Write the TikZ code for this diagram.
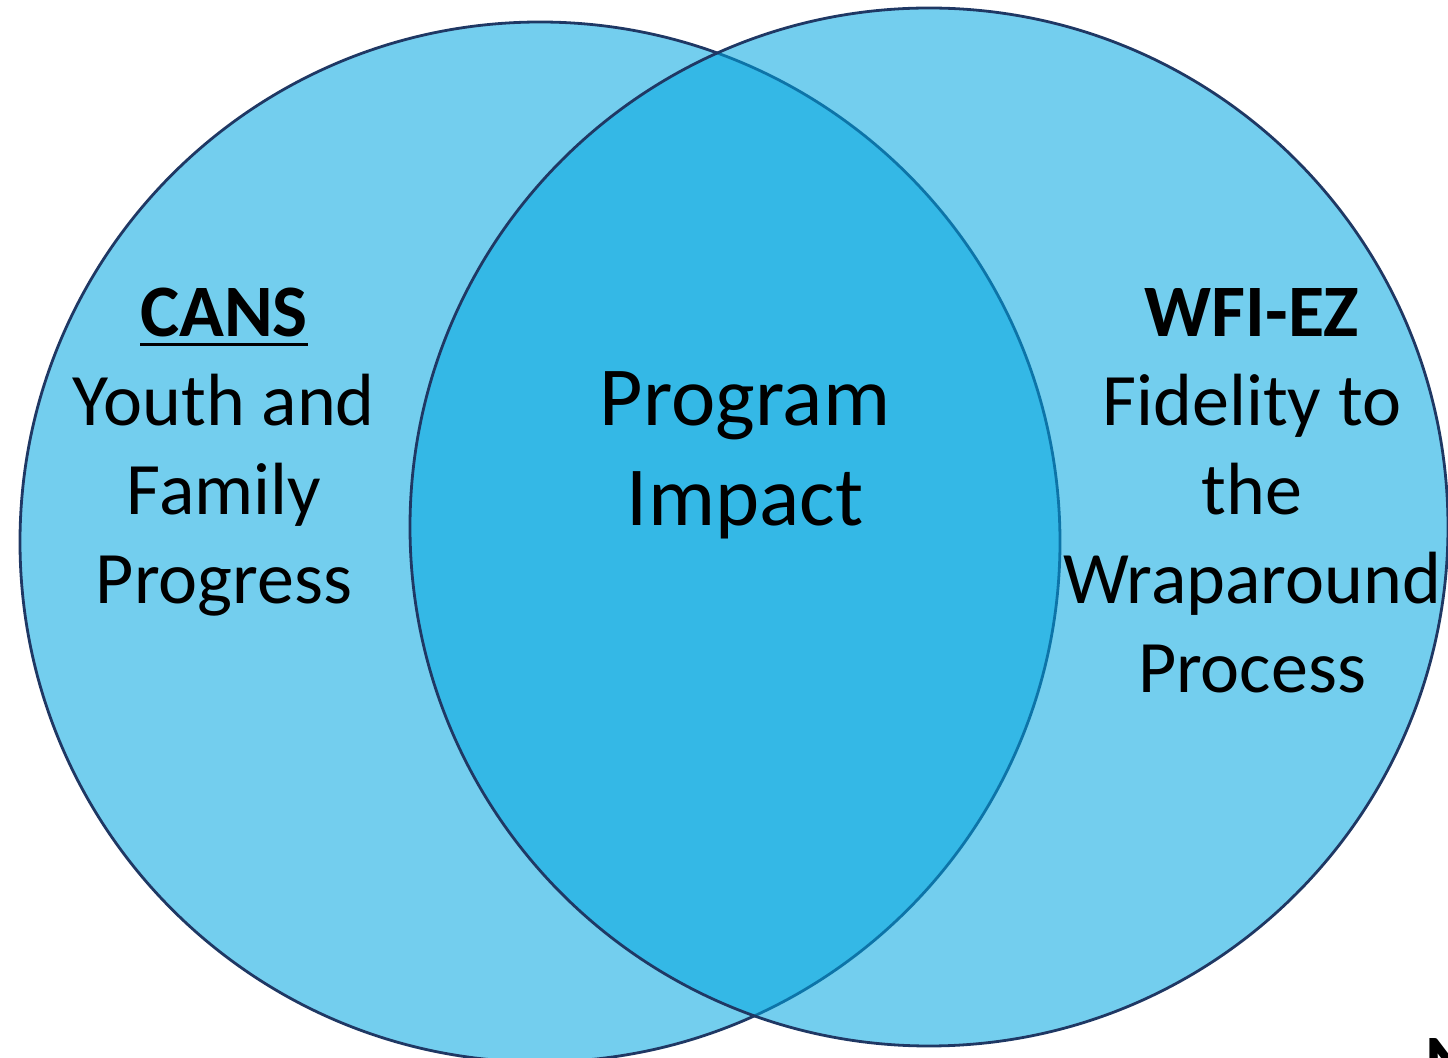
\documentclass[tikz,border=0pt]{standalone}
\usepackage{fontspec}
\setmainfont{Carlito}
\definecolor{vennblue}{RGB}{0,166,224}
\definecolor{vennline}{RGB}{31,56,100}
\newcommand{\thickul}[1]{\vtop{\hbox{#1}\kern2.5pt\hrule height 1.6pt}}
\tikzset{
	venn/.style={fill=vennblue, fill opacity=0.55, draw=vennline, line width=1.4pt},
	sidetext/.style={align=center, font=\fontsize{37}{44.5}\selectfont},
	midtext/.style={align=center, font=\fontsize{42}{50}\selectfont}
}
\begin{document}
\begin{tikzpicture}[x=0.5pt, y=-0.5pt]
	\useasboundingbox (0,0) rectangle (1448,1058);
	\clip (0,0) rectangle (1448,1058);
	\draw[venn] (540,542) circle[radius=520];
	\draw[venn] (929,527) circle[radius=519];
	% left set
	\node[sidetext, anchor=base] (cans) at (224,604) {\thickul{\textbf{CANS}}\\Youth and\\Family\\Progress};
	% overlap
	\node[midtext, anchor=base] (impact) at (745,526) {Program\\Impact};
	% right set
	\node[sidetext, anchor=base] (wfiez) at (1252,693) {\textbf{WFI-EZ}\\Fidelity to\\the\\Wraparound\\Process};
	\node[sidetext, anchor=base west] (cut) at (1418,1087) {\textbf{N}};
\end{tikzpicture}
\end{document}
